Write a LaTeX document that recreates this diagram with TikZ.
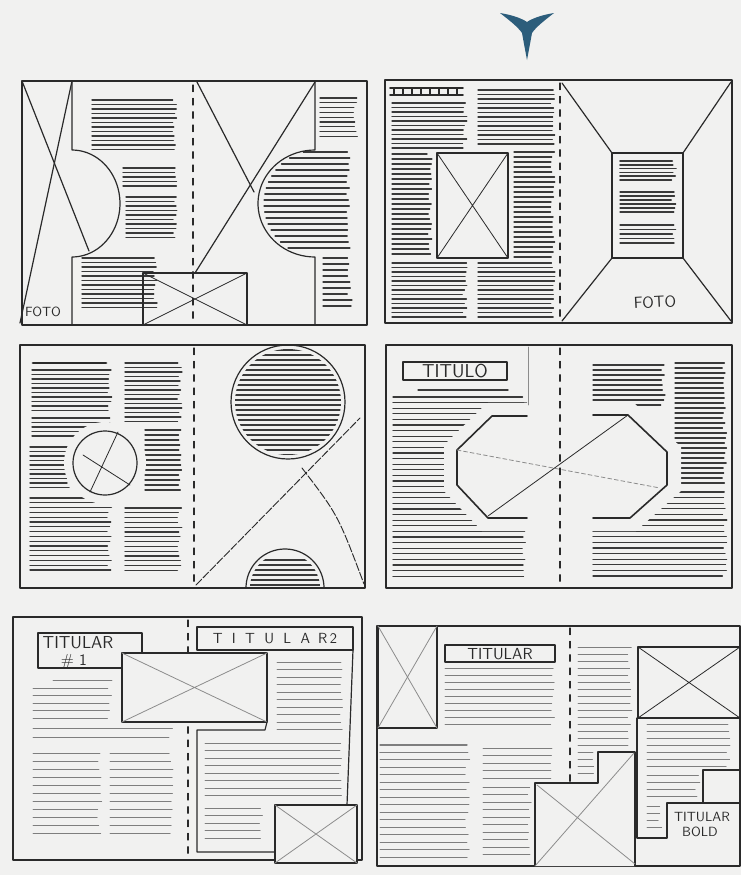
\documentclass[tikz,border=0pt]{standalone}
\definecolor{paper}{HTML}{F1F1F0}
\definecolor{ink}{HTML}{2A2A2A}
\definecolor{txt}{HTML}{3A3A3A}
\definecolor{soft}{HTML}{8C8C8C}
\definecolor{light}{HTML}{7E7E7E}
\definecolor{arrowblue}{HTML}{2C5D7B}
\newcommand\tlines[6][]{%
  \pgfmathsetmacro\tlb{#4+#6}%
  \foreach \yy in {#4,\tlb,...,#5}{%
    \pgfmathsetmacro\tle{#3-5*rnd}%
    \draw[tline,#1] (#2,\yy) -- (\tle,\yy);
  }%
}
\begin{document}
\begin{tikzpicture}[x=0.75pt,y=-0.75pt,line cap=round,line join=round,
  frame/.style={draw=ink,line width=0.9pt},
  thinx/.style={draw=ink,line width=0.6pt},
  softx/.style={draw=soft,line width=0.6pt},
  gutter/.style={draw=ink,line width=0.8pt,dash pattern=on 5pt off 5pt},
  tline/.style={draw=txt,line width=1pt},
  tlight/.style={draw=light,line width=0.65pt},
  lbl/.style={font=\sffamily\fontsize{10}{10}\selectfont,text=ink,inner sep=0pt}]
\pgfmathsetseed{7}
\fill[paper] (0,0) rectangle (741,875);
\useasboundingbox (0,0) rectangle (741,875);

% arrow mark
\fill[arrowblue] (500,13) .. controls (512,15) and (521,18) .. (527,22)
  .. controls (533,18) and (542,15) .. (554,13)
  .. controls (545,20) and (536,27) .. (532,33)
  .. controls (530,44) .. (527,60)
  .. controls (524,44) .. (522,33)
  .. controls (518,27) and (509,20) .. (500,13) -- cycle;

% ================= Panel 1 =================
\tlines{92}{177}{100}{150}{4.5}
\tlines{123}{177}{168}{187}{4.5}
\tlines{126}{177}{197}{240}{4.5}
\tlines{82}{158}{258}{308}{4.5}
\tlines{320}{358}{98}{137}{4.8}
\foreach \yy in {152,158,...,252}{%
  \pgfmathsetmacro\xl{318-54*sqrt(max(0,1-((\yy-203.5)/53.5)^2))}%
  \pgfmathsetmacro\xr{350-4*rnd}%
  \draw[tline] (\xl,\yy) -- (\xr,\yy);}
\tlines{323}{352}{258}{308}{6}
\draw[frame] (22,81) rectangle (367,325);
\draw[gutter] (193,85) -- (193,325);
\draw[frame] (72,81) -- (72,150) -- plot[domain=-90:90,samples=40] ({72+48*cos(\x)},{203.5+53.5*sin(\x)}) -- (72,325);
\draw[frame] (22,81) -- (89,251);
\draw[frame] (72,81) -- (20,323);
\draw[frame] (315,81) -- (315,150) -- plot[domain=-90:90,samples=40] ({315-57*cos(\x)},{203.5+53.5*sin(\x)}) -- (315,325);
\draw[frame] (197,82) -- (254,192);
\draw[frame] (315,82) -- (195,273);
\draw[frame] (143,273) rectangle (247,325);
\draw[thinx] (143,273) -- (247,325) (143,325) -- (247,273);
\node[lbl] (foto1) at (43,312) {FOTO};

% ================= Panel 2 =================
\draw[ink,line width=1.3pt] (390,88) -- (463,88) (390,95) -- (463,95);
\foreach \xx in {394,403,...,460} \draw[ink,line width=1pt] (\xx,88) -- (\xx,95);
\tlines{392}{467}{103}{150}{4.5}
\tlines{392}{432}{154}{258}{5}
\tlines{392}{467}{263}{318}{4.5}
\tlines{478}{555}{90}{146}{4.5}
\tlines{514}{555}{152}{258}{5}
\tlines{478}{555}{263}{318}{4.5}
\draw[frame] (437,153) rectangle (508,258);
\draw[thinx] (437,153) -- (508,258) (437,258) -- (508,153);
\draw[frame] (385,80) rectangle (732,323);
\draw[gutter] (560,83) -- (560,323);
\draw[frame] (562,83) -- (612,153) (731,82) -- (683,153) (562,321) -- (612,258) (731,321) -- (683,258);
\draw[ink,line width=1.3pt] (612,153) rectangle (683,258);
\tlines[line width=1.3pt]{620}{676}{161}{181}{3.8}
\tlines{620}{676}{192}{215}{4}
\tlines{620}{676}{225}{247}{4.5}
\node[lbl,font=\sffamily\fontsize{12}{12}\selectfont,rotate=3] (foto2) at (655,302) {FOTO};

% ================= Panel 3 =================
\draw[ink,line width=2.2pt] (33,363) -- (106,363);
\tlines{32}{112}{370}{412}{4.5}
\tlines{32}{112}{418}{440}{4.5}
\tlines{30}{72}{447}{488}{4.5}
\tlines{30}{112}{498}{572}{4.8}
\tlines{125}{182}{363}{425}{4.5}
\tlines{145}{182}{430}{490}{5}
\tlines{125}{182}{508}{575}{4.8}
\fill[paper] (105,463) circle[radius=41];
\draw[frame] (105,463) circle[radius=32];
\draw[thinx] (83,455) -- (130,485) (118,432) -- (90,492);
\begin{scope}
  \clip (288,402) circle[radius=53];
  \tlines{230}{346}{350}{456}{5}
\end{scope}
\draw[frame] (288,402) circle[radius=57];
\begin{scope}
  \clip (285,588) circle[radius=35];
  \tlines{248}{322}{560}{586}{5}
\end{scope}
\draw[frame] plot[domain=180:360,samples=40] ({285+39*cos(\x)},{588+39*sin(\x)});
\draw[ink,line width=0.7pt,dash pattern=on 6pt off 1.5pt] (196,585) -- (360,418);
\draw[ink,line width=0.7pt,dash pattern=on 6pt off 1.5pt] (302,468) .. controls (338,515) .. (364,584);
\draw[frame] (20,345) rectangle (365,588);
\draw[gutter] (194,348) -- (194,588);

% ================= Panel 4 =================
\draw[tline] (418,390) -- (508,390);
\tlines{393}{527}{397}{578}{5.6}
\tlines{593}{665}{365}{408}{5}
\tlines{675}{727}{363}{486}{5}
\tlines{593}{727}{492}{578}{5.6}
\fill[paper] (487,403) -- (633,402) -- (681,447) -- (681,491) -- (636,531) -- (482,531) -- (444,491) -- (444,445) -- cycle;
\draw[ink,line width=1.2pt] (527,416) -- (492,416) -- (457,450) -- (457,485) -- (488,518) -- (527,518);
\draw[ink,line width=1.2pt] (593,415) -- (628,415) -- (667,452) -- (667,485) -- (630,518) -- (593,518);
\draw[softx,dash pattern=on 3pt off 2pt] (457,450) -- (660,488);
\draw[thinx] (628,415) -- (488,516);
\draw[frame] (403,362) rectangle (507,380);
\node[lbl,font=\sffamily\fontsize{14}{14}\selectfont] (titulo) at (455,371) {TITULO};
\draw[draw=soft,line width=0.5pt] (528,347) -- (528,405);
\draw[frame] (386,345) rectangle (732,588);
\draw[gutter] (560,348) -- (560,588);

% ================= Panel 5 =================
\draw[tlight] (53,680) -- (112,680);
\tlines[tlight]{33}{112}{688}{718}{7.5}
\tlines[tlight]{33}{173}{728}{737}{9}
\tlines[tlight]{33}{102}{753}{840}{8}
\tlines[tlight]{110}{173}{753}{840}{8}
\tlines[tlight]{277}{343}{662}{735}{7.5}
\tlines[tlight]{205}{342}{743}{802}{7.5}
\tlines[tlight]{205}{263}{808}{845}{7.5}
\draw[frame] (13,617) rectangle (362,860);
\draw[gutter] (188,620) -- (188,860);
\draw[frame] (38,633) rectangle (142,668);
\fill[paper] (122,653) rectangle (267,722);
\draw[frame] (122,653) rectangle (267,722);
\draw[softx] (122,653) -- (267,722) (122,722) -- (267,653);
\node[lbl,font=\sffamily\fontsize{13}{13}\selectfont] (tit1) at (78,643) {TITULAR};
\node[lbl,font=\sffamily\fontsize{12}{12}\selectfont] (tit1b) at (74,661) {\# 1};
\draw[frame] (197,627) rectangle (353,650);
\node[lbl,font=\sffamily\fontsize{11}{11}\selectfont] (tit2) at (275,639) {T\hspace{7pt}I\hspace{7pt}T\hspace{7pt}U\hspace{7pt}L\hspace{7pt}A\hspace{6pt}R\hspace{2pt}2};
\draw[frame] (353,650) -- (347,805);
\fill[paper] (275,805) rectangle (357,863);
\draw[frame] (275,805) rectangle (357,863);
\draw[softx] (275,805) -- (357,863) (275,863) -- (357,805);
\draw[frame] (267,722) -- (265,730) -- (197,730) -- (197,852) -- (275,852);

% ================= Panel 6 =================
\tlines[tlight]{445}{555}{668}{730}{7}
\tlines[tlight,line width=1pt]{380}{470}{745}{745}{7.5}
\tlines[tlight]{380}{470}{752}{858}{7.5}
\tlines[tlight]{483}{553}{748}{780}{7.5}
\tlines[tlight]{483}{532}{787}{858}{7.5}
\tlines[tlight]{578}{632}{647}{748}{7}
\tlines[tlight]{578}{596}{752}{778}{7}
\tlines[tlight]{647}{730}{724}{768}{7}
\tlines[tlight]{647}{700}{775}{800}{7}
\tlines[tlight]{647}{662}{806}{828}{7}
\draw[frame] (377,626) rectangle (740,866);
\draw[gutter] (570,628) -- (570,866);
\draw[frame] (378,626) rectangle (437,728);
\draw[softx] (378,626) -- (437,728) (378,728) -- (437,626);
\draw[frame] (445,645) rectangle (555,662);
\draw[ink,line width=1.4pt] (447,662) -- (480,662);
\node[lbl,font=\sffamily\fontsize{12}{12}\selectfont] (tit3) at (500,654) {TITULAR};
\fill[paper] (535,866) -- (535,783) -- (598,783) -- (598,752) -- (635,752) -- (635,866) -- cycle;
\draw[frame] (535,866) -- (535,783) -- (598,783) -- (598,752) -- (635,752) -- (635,866);
\draw[softx] (537,785) -- (635,864) (535,866) -- (634,753);
\draw[frame] (638,647) rectangle (740,718);
\draw[thinx] (638,718) -- (740,647) (638,647) -- (740,718);
\draw[frame] (637,718) -- (637,838) -- (667,838) -- (667,803) -- (740,803);
\draw[frame] (703,803) -- (703,770) -- (740,770);
\node[lbl] (tit4) at (702,817) {TITULAR};
\node[lbl] (tit4b) at (700,832) {BOLD};
\end{tikzpicture}
\end{document}
